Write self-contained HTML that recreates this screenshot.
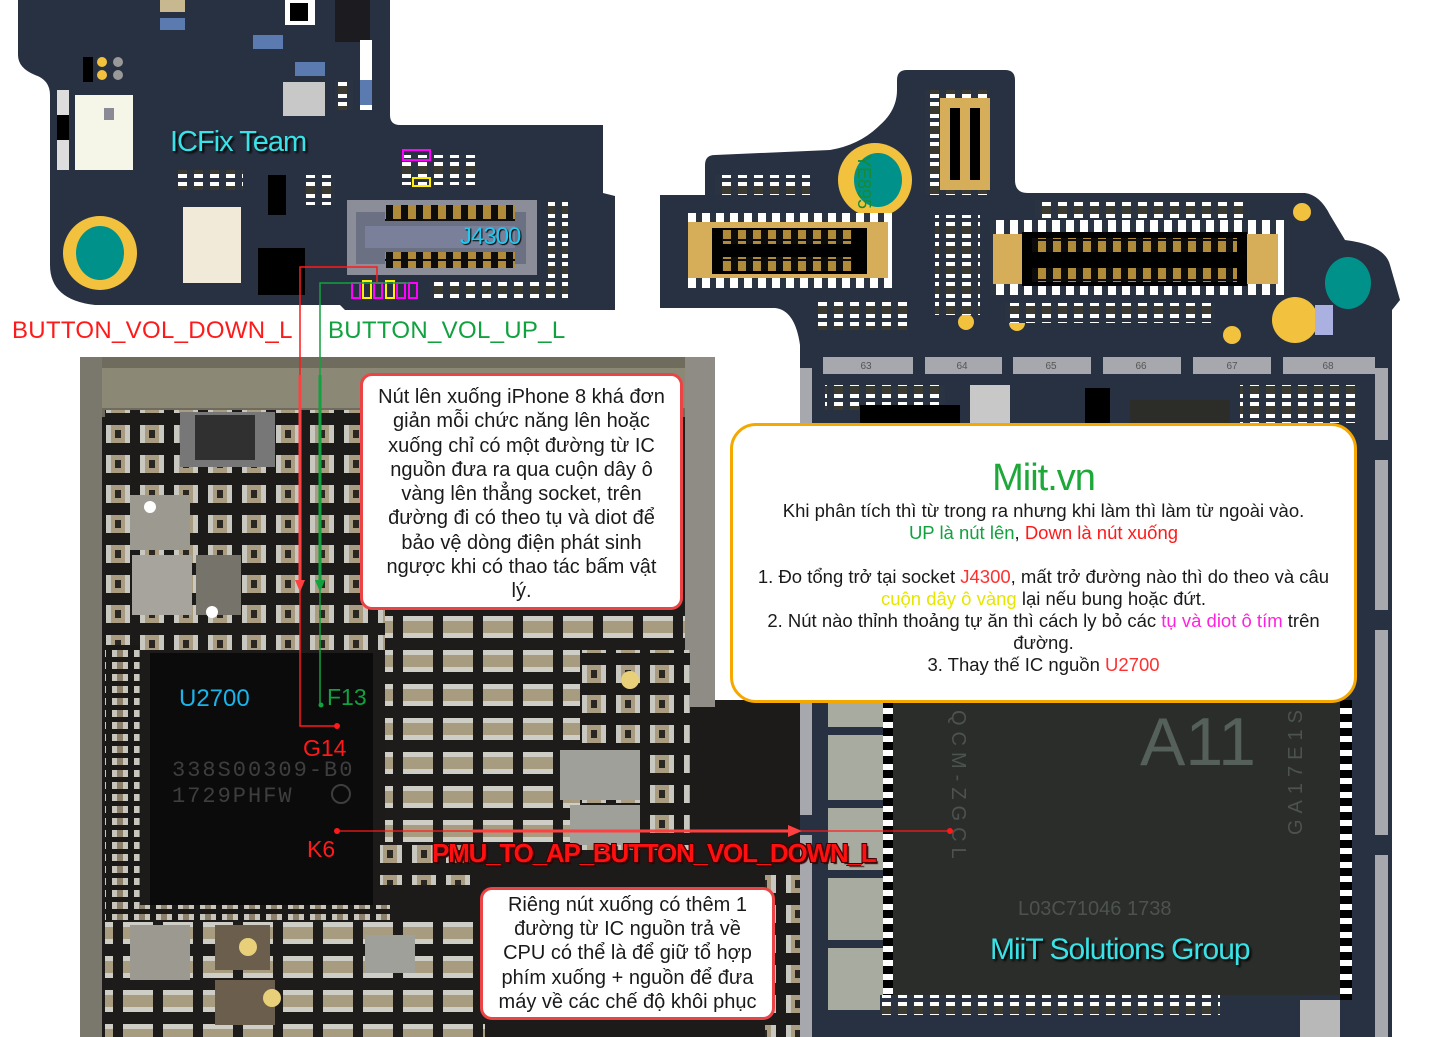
<!DOCTYPE html>
<html><head><meta charset="utf-8"><style>
html,body{margin:0;padding:0;background:#fff;}
body{width:1440px;height:1037px;position:relative;overflow:hidden;font-family:"Liberation Sans","Noto Sans CJK SC",sans-serif;}
.abs{position:absolute;}
.box{position:absolute;background:#fff;text-align:center;color:#1a1a1a;}
.lbl{position:absolute;white-space:nowrap;}
</style></head><body>
<svg class="abs" style="left:0;top:0" width="1440" height="1037" viewBox="0 0 1440 1037">
<defs>
<pattern id="comp" x="0" y="0" width="34" height="30" patternUnits="userSpaceOnUse">
<rect width="34" height="30" fill="#1d1b1a"/>
<rect x="4" y="5" width="24" height="18" fill="#a99c80"/>
<rect x="4" y="5" width="5" height="18" fill="#c8c8c0"/>
<rect x="23" y="5" width="5" height="18" fill="#c8c8c0"/>
<rect x="13" y="10" width="6" height="8" fill="#2a2622"/>
</pattern>
<pattern id="comp2" x="0" y="0" width="40" height="34" patternUnits="userSpaceOnUse">
<rect width="40" height="34" fill="#1e1c1b"/>
<rect x="3" y="4" width="30" height="22" fill="#a89c80"/>
<rect x="3" y="4" width="30" height="5" fill="#cfcec6"/>
<rect x="3" y="21" width="30" height="5" fill="#cfcec6"/>
</pattern>
<pattern id="pads" x="0" y="0" width="22" height="12" patternUnits="userSpaceOnUse">
<rect width="22" height="12" fill="#1a1918"/>
<rect x="2" y="2" width="16" height="7" fill="#c8c6bc"/>
<rect x="7" y="2" width="6" height="7" fill="#8c806a"/>
</pattern>
<pattern id="bw" x="0" y="0" width="10" height="14" patternUnits="userSpaceOnUse">
<rect width="10" height="14" fill="#fff"/><rect x="0" y="0" width="10" height="8" fill="#000"/>
</pattern>
<pattern id="bwh" x="0" y="0" width="16" height="20" patternUnits="userSpaceOnUse">
<rect width="16" height="20" fill="#2a3342"/><rect x="2" y="2" width="9" height="16" fill="#fff"/><rect x="2" y="6" width="9" height="8" fill="#3a3a30"/>
</pattern>
<pattern id="pins" x="0" y="0" width="15" height="20" patternUnits="userSpaceOnUse">
<rect width="15" height="20" fill="#0c0c0c"/><rect x="3" y="1" width="8" height="18" fill="#b08c3a"/>
</pattern>
<pattern id="whitepins" x="0" y="0" width="14" height="30" patternUnits="userSpaceOnUse">
<rect width="14" height="30" fill="#2a3342"/><rect x="2" y="0" width="8" height="30" fill="#fff"/>
</pattern>
</defs>

<path d="M18,0 L390,0 L390,115 Q390,125 400,125 L603,125 L603,193 L615,196 L615,310 L345,310 L340,305 L95,305 Q50,300 50,265 L50,95 Q50,80 35,75 Q18,68 18,55 Z" fill="#283142"/>
<rect x="75" y="95" width="58" height="75" fill="#f6f6e8"/><rect x="104" y="108" width="10" height="12" fill="#8a8a96"/>
<rect x="183" y="207" width="58" height="76" fill="#f2ead8"/>
<rect x="258" y="248" width="47" height="47" fill="#000"/>
<circle cx="100" cy="253" r="37" fill="#f2c23e"/><ellipse cx="100" cy="253" rx="24" ry="27" fill="#00918a"/>
<rect x="268" y="175" width="18" height="40" fill="#000"/>
<rect x="283" y="82" width="42" height="34" fill="#c8c8c8"/>
<rect x="335" y="0" width="35" height="42" fill="#1c1c20"/>
<rect x="285" y="0" width="30" height="25" fill="#fff"/><rect x="290" y="3" width="18" height="18" fill="#000"/>
<rect x="178" y="170" width="65" height="20" fill="url(#bwh)"/>
<rect x="160" y="0" width="25" height="12" fill="#c8b890"/><rect x="160" y="18" width="25" height="12" fill="#5a7ab0"/>
<rect x="253" y="35" width="30" height="14" fill="#5a7ab0"/>
<rect x="295" y="62" width="30" height="14" fill="#5a7ab0"/>
<rect x="83" y="57" width="10" height="25" fill="#000"/><circle cx="102" cy="62" r="5" fill="#f2c23e"/><circle cx="102" cy="75" r="5" fill="#f2c23e"/><circle cx="118" cy="62" r="5" fill="#999"/><circle cx="118" cy="75" r="5" fill="#999"/>
<rect x="57" y="90" width="12" height="80" fill="#ddd"/><rect x="57" y="115" width="12" height="25" fill="#000"/>
<rect x="360" y="40" width="12" height="70" fill="#fff"/><rect x="360" y="80" width="12" height="25" fill="#5a7ab0"/>
<rect x="335" y="80" width="18" height="30" fill="url(#bwh)"/>
<rect x="305" y="175" width="30" height="30" fill="url(#bwh)"/>
<rect x="400" y="155" width="80" height="30" fill="url(#bwh)"/>
<rect x="548" y="200" width="20" height="100" fill="url(#bwh)"/>
<rect x="430" y="282" width="135" height="18" fill="url(#bwh)"/>
<rect x="403" y="150" width="27" height="10" fill="none" stroke="#ff00ff" stroke-width="2"/>
<rect x="413" y="178" width="17" height="8" fill="none" stroke="#ffee00" stroke-width="2"/>
<rect x="347" y="200" width="190" height="75" fill="#8b8e99"/>
<rect x="356" y="212" width="170" height="52" fill="#6b7083"/>
<rect x="385" y="205" width="130" height="16" fill="url(#pins)"/>
<rect x="385" y="252" width="130" height="16" fill="url(#pins)"/>
<rect x="365" y="226" width="150" height="22" fill="#7b809a"/>
<rect x="352" y="283" width="8" height="15" fill="none" stroke="#ff00ff" stroke-width="2"/>
<rect x="363" y="281" width="8" height="17" fill="none" stroke="#ffee00" stroke-width="2"/>
<rect x="374" y="283" width="8" height="15" fill="none" stroke="#ff00ff" stroke-width="2"/>
<rect x="386" y="281" width="8" height="17" fill="none" stroke="#ffee00" stroke-width="2"/>
<rect x="397" y="283" width="8" height="15" fill="none" stroke="#ff00ff" stroke-width="2"/>
<rect x="409" y="283" width="8" height="15" fill="none" stroke="#ff00ff" stroke-width="2"/>

<path d="M660,195 L705,195 L705,165 Q705,155 715,155 L830,150 Q860,145 880,125 Q897,110 897,90 L897,80 Q897,70 907,70 L1005,70 Q1015,70 1015,80 L1015,180 Q1015,193 1028,193 L1305,193 Q1320,195 1330,215 L1345,240 Q1385,245 1390,265 L1400,300 L1392,310 L1392,1037 L800,1037 L800,345 Q795,310 775,308 L660,308 Z" fill="#283142"/>
<rect x="925" y="90" width="65" height="105" fill="url(#bwh)"/>
<rect x="940" y="98" width="50" height="92" fill="#d6ae5a"/>
<rect x="950" y="108" width="30" height="72" fill="#000"/>
<rect x="960" y="108" width="10" height="72" fill="#d6ae5a"/>
<circle cx="875" cy="180" r="37" fill="#f2c23e"/><ellipse cx="878" cy="180" rx="24" ry="27" fill="#00918a"/>
<text x="858" y="155" font-size="18" fill="#1a8a30" transform="rotate(90 858 155)" font-family="Liberation Sans">YE895</text>
<ellipse cx="1348" cy="283" rx="23" ry="26" fill="#00918a"/>
<circle cx="1295" cy="320" r="23" fill="#f2c23e"/>
<rect x="1315" y="305" width="18" height="30" fill="#aab0e0"/>
<circle cx="1232" cy="335" r="9" fill="#f2c23e"/>
<circle cx="1302" cy="212" r="9" fill="#f2c23e"/>
<circle cx="966" cy="322" r="8" fill="#f2c23e"/><circle cx="1017" cy="323" r="8" fill="#f2c23e"/>
<rect x="688" y="213" width="205" height="75" fill="url(#whitepins)"/>
<rect x="688" y="222" width="200" height="56" fill="#d6ae5a"/>
<rect x="712" y="228" width="155" height="46" fill="#000"/>
<rect x="722" y="230" width="130" height="14" fill="url(#pins)"/>
<rect x="722" y="257" width="130" height="14" fill="url(#pins)"/>
<rect x="990" y="220" width="300" height="75" fill="url(#whitepins)"/>
<rect x="993" y="234" width="285" height="50" fill="#d6ae5a"/>
<rect x="1022" y="232" width="225" height="54" fill="#000"/>
<rect x="1032" y="238" width="205" height="14" fill="url(#pins)"/>
<rect x="1032" y="268" width="205" height="14" fill="url(#pins)"/>
<rect x="1035" y="200" width="215" height="18" fill="url(#bwh)"/>
<rect x="1005" y="303" width="210" height="20" fill="url(#bwh)"/>
<rect x="818" y="300" width="90" height="30" fill="url(#bwh)"/>
<rect x="715" y="175" width="95" height="20" fill="url(#bwh)"/>
<rect x="935" y="215" width="45" height="100" fill="url(#bwh)"/>
<g fill="#a7a7ae">
<rect x="823" y="357" width="90" height="17"/><rect x="925" y="357" width="77" height="17"/>
<rect x="1013" y="357" width="78" height="17"/><rect x="1103" y="357" width="78" height="17"/>
<rect x="1193" y="357" width="78" height="17"/><rect x="1283" y="357" width="92" height="17"/>
</g>
<g font-size="10" fill="#555" font-family="Liberation Sans" text-anchor="middle">
<text x="866" y="369">63</text><text x="962" y="369">64</text><text x="1051" y="369">65</text><text x="1141" y="369">66</text><text x="1232" y="369">67</text><text x="1328" y="369">68</text>
</g>
<rect x="800" y="368" width="12" height="669" fill="#a7a7ae"/>
<rect x="1375" y="368" width="13" height="669" fill="#a7a7ae"/>
<g fill="#283142"><rect x="800" y="480" width="12" height="20"/><rect x="800" y="630" width="12" height="20"/><rect x="800" y="815" width="12" height="20"/><rect x="1375" y="440" width="13" height="20"/><rect x="1375" y="610" width="13" height="20"/><rect x="1375" y="835" width="13" height="20"/></g>
<rect x="825" y="385" width="120" height="25" fill="url(#bwh)"/>
<rect x="860" y="405" width="100" height="18" fill="#000"/>
<rect x="970" y="385" width="40" height="38" fill="#c8c8c8"/>
<rect x="1085" y="388" width="25" height="35" fill="#000"/>
<rect x="1130" y="400" width="100" height="23" fill="#2c2c28"/>
<rect x="1240" y="385" width="120" height="38" fill="url(#bwh)"/>
<rect x="828" y="700" width="55" height="310" fill="#a8ab9f"/>
<g fill="#283142"><rect x="828" y="727" width="55" height="8"/><rect x="828" y="800" width="55" height="8"/><rect x="828" y="870" width="55" height="8"/><rect x="828" y="940" width="55" height="8"/></g>
<rect x="883" y="700" width="12" height="305" fill="url(#bw)"/>
<rect x="893" y="700" width="447" height="295" fill="#2b2d2b"/>
<rect x="1340" y="700" width="12" height="300" fill="url(#bw)"/>
<rect x="880" y="995" width="340" height="20" fill="url(#bwh)"/>
<rect x="1300" y="1000" width="40" height="37" fill="#b8b8b8"/>
<text x="1140" y="765" font-size="68" fill="#55605a" font-family="Liberation Sans">A11</text>
<text x="952" y="710" font-size="20" fill="#4c524f" font-family="Liberation Sans" letter-spacing="6" transform="rotate(90 952 710)">QCM-ZGCL</text>
<text x="1302" y="835" font-size="20" fill="#4c524f" font-family="Liberation Sans" letter-spacing="6" transform="rotate(-90 1302 835)">GA17E1S</text>
<text x="1018" y="915" font-size="20" fill="#4d524f" font-family="Liberation Sans">L03C71046  1738</text>

<path d="M80,357 L715,357 L715,700 L800,700 L800,1037 L80,1037 Z" fill="#1d1b1a"/>
<rect x="80" y="357" width="635" height="60" fill="#6f6c5e"/>
<rect x="100" y="368" width="600" height="40" fill="#8c8876"/>
<rect x="80" y="357" width="22" height="680" fill="#7a776c"/>
<rect x="685" y="357" width="30" height="350" fill="#8e8c84"/>
<rect x="105" y="410" width="280" height="240" fill="url(#comp)"/>
<rect x="130" y="495" width="60" height="55" fill="#9c9a90"/>
<rect x="132" y="555" width="60" height="60" fill="#a6a49c"/>
<rect x="196" y="555" width="45" height="60" fill="#76736a"/>
<rect x="180" y="412" width="95" height="55" fill="#777"/><rect x="195" y="415" width="60" height="45" fill="#303030"/>
<circle cx="150" cy="507" r="6" fill="#fff"/><circle cx="212" cy="612" r="6" fill="#fff"/>
<rect x="385" y="610" width="300" height="240" fill="url(#comp2)"/>
<rect x="580" y="650" width="110" height="200" fill="url(#comp)"/>
<rect x="560" y="750" width="80" height="50" fill="#a0a09a"/>
<rect x="570" y="805" width="70" height="40" fill="#a0a09a"/>
<circle cx="630" cy="680" r="9" fill="#e8d07a"/>
<rect x="105" y="645" width="35" height="320" fill="url(#pads)"/>
<rect x="140" y="905" width="250" height="18" fill="url(#pads)"/>
<rect x="150" y="653" width="223" height="252" fill="#0b0b0c"/>
<rect x="105" y="920" width="380" height="117" fill="url(#comp2)"/>
<rect x="130" y="925" width="60" height="55" fill="#9c9a90"/>
<rect x="215" y="925" width="55" height="45" fill="#6b5e4c"/>
<rect x="215" y="980" width="60" height="45" fill="#6b5e4c"/>
<circle cx="248" cy="947" r="9" fill="#e8d07a"/><circle cx="272" cy="998" r="9" fill="#e8d07a"/>
<rect x="365" y="935" width="50" height="38" fill="#a0a09a"/>
<rect x="380" y="845" width="100" height="40" fill="url(#comp)"/>
<rect x="765" y="870" width="35" height="167" fill="url(#comp)"/>
<text x="172" y="776" font-size="22" fill="#3e3e3e" font-family="Liberation Mono" letter-spacing="2">338S00309-B0</text>
<text x="172" y="802" font-size="22" fill="#3e3e3e" font-family="Liberation Mono" letter-spacing="2">1729PHFW</text>
<circle cx="341" cy="794" r="9" fill="none" stroke="#3e3e3e" stroke-width="2"/>

<polyline points="377,283 377,267 300,267 300,726 337,726" fill="none" stroke="#ff1a1a" stroke-width="1.5"/>
<line x1="300" y1="375" x2="300" y2="585" stroke="#ff4040" stroke-width="3"/>
<polygon points="295,580 305,580 300,592" fill="#ff4040"/>
<polyline points="410,283 320,283 320,705" fill="none" stroke="#11a13f" stroke-width="1.5"/>
<line x1="320" y1="375" x2="320" y2="585" stroke="#11a13f" stroke-width="3"/>
<polygon points="315,580 325,580 320,592" fill="#11a13f"/>
<circle cx="321" cy="705" r="2.5" fill="#11a13f"/>
<circle cx="337" cy="726" r="3" fill="#ff1a1a"/>
<line x1="337" y1="831" x2="950" y2="831" stroke="#ff1a1a" stroke-width="1.2"/>
<line x1="472" y1="831" x2="790" y2="831" stroke="#ff4040" stroke-width="3"/>
<polygon points="788,825 802,831 788,837" fill="#ff4040"/>
<circle cx="337" cy="831" r="3" fill="#ff1a1a"/><circle cx="950" cy="831" r="3" fill="#ff1a1a"/>
</svg>

<div class="lbl" style="left:170px;top:126px;font-size:29px;color:#38e2e6;text-shadow:2px 2px 2px #000;letter-spacing:-1px">ICFix Team</div>
<div class="lbl" style="left:460px;top:223px;font-size:24px;color:#22c8f0;text-shadow:1px 1px 1px #000;letter-spacing:-1px">J4300</div>
<div class="lbl" style="left:12px;top:317px;font-size:24px;color:#ff1a1a;letter-spacing:0.3px">BUTTON_VOL_DOWN_L</div>
<div class="lbl" style="left:328px;top:317px;font-size:24px;color:#11a13f;letter-spacing:0.3px">BUTTON_VOL_UP_L</div>
<div class="lbl" style="left:179px;top:685px;font-size:24px;color:#1ab4e8">U2700</div>
<div class="lbl" style="left:327px;top:684px;font-size:23px;color:#11a13f">F13</div>
<div class="lbl" style="left:303px;top:735px;font-size:23px;color:#ff1a1a">G14</div>
<div class="lbl" style="left:307px;top:836px;font-size:23px;color:#ff1a1a">K6</div>
<div class="lbl" style="left:432px;top:838px;font-size:26px;font-weight:bold;color:#ff1010;letter-spacing:-1.2px;text-shadow:-1px -1px 0 #400,1px -1px 0 #400,-1px 1px 0 #400,2px 2px 1px #300">PMU_TO_AP_BUTTON_VOL_DOWN_L</div>
<div class="lbl" style="left:990px;top:933px;font-size:30px;color:#38e2e6;text-shadow:2px 2px 2px #000;letter-spacing:-1px">MiiT Solutions Group</div>

<div class="box" style="left:360px;top:373px;width:323px;height:237px;border:3px solid #ec4444;border-radius:12px;font-size:20px;line-height:24.3px;padding:9px 12px 0;box-sizing:border-box">Nút lên xuống iPhone 8 khá đơn giản mỗi chức năng lên hoặc xuống chỉ có một đường từ IC nguồn đưa ra qua cuộn dây ô vàng lên thẳng socket, trên đường đi có theo tụ và diot để bảo vệ dòng điện phát sinh ngược khi có thao tác bấm vật lý.</div>
<div class="box" style="left:480px;top:887px;width:295px;height:133px;border:3px solid #ec4444;border-radius:12px;font-size:20px;line-height:24.2px;padding:3px 8px 0;box-sizing:border-box">Riêng nút xuống có thêm 1 đường từ IC nguồn trả về CPU có thể là để giữ tổ hợp phím xuống + nguồn để đưa máy về các chế độ khôi phục</div>
<div class="box" style="left:730px;top:423px;width:627px;height:280px;border:3px solid #f5a800;border-radius:26px;box-sizing:border-box;font-size:18.5px;line-height:22px;padding-top:30px">
<div style="font-size:38px;line-height:44px;color:#1fa83a;letter-spacing:-1px">Miit.vn</div>
<div>Khi phân tích thì từ trong ra nhưng khi làm thì làm từ ngoài vào.</div>
<div><span style="color:#11a13f">UP là nút lên</span>, <span style="color:#ff1a1a">Down là nút xuống</span></div>
<div>&nbsp;</div>
<div style="padding:0 14px">1. Đo tổng trở tại socket <span style="color:#ff3030">J4300</span>, mất trở đường nào thì do theo và câu <span style="color:#e6e600">cuộn dây ô vàng</span> lại nếu bung hoặc đứt.<br>2. Nút nào thỉnh thoảng tự ăn thì cách ly bỏ các <span style="color:#ff22dd">tụ và diot ô tím</span> trên đường.<br>3. Thay thế IC nguồn <span style="color:#ff3030">U2700</span></div>
</div>
</body></html>
